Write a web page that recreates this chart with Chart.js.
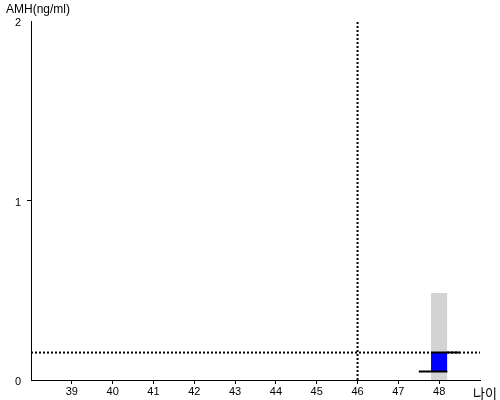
<!DOCTYPE html>
<html>
<head>
<meta charset="utf-8">
<script src="https://cdn.jsdelivr.net/npm/chart.js@4/dist/chart.umd.min.js"></script>
<style>
  html, body { margin: 0; padding: 0; background: #fff; }
  #wrap { width: 500px; height: 400px; position: relative; }
</style>
</head>
<body>
<div id="wrap"><canvas id="c"></canvas></div>
<script>
// ---- data ----
const yTitle = 'AMH(ng/ml)';
const xTitle = '나이';
const ageRange = [38, 49];
const amhRange = [0, 2];
const xTickLabels = [39, 40, 41, 42, 43, 44, 45, 46, 47, 48];
const yTickLabels = [0, 1, 2];
const refAge = 46;            // vertical dotted line
const refAmh = 0.153;         // horizontal dotted line
const boxAges = [47.8, 48.2]; // gray / blue box span
const grayTop = 0.485;
const blueRange = [0.047, 0.153];
const topLineAges = [47.8, 48.5];
const bottomLineAges = [47.5, 48.2];

const cornerText = {
  id: 'cornerText',
  afterDraw(chart) {
    const ctx = chart.ctx, a = chart.chartArea;
    ctx.save();
    ctx.fillStyle = '#000';
    ctx.font = '13px "Noto Sans CJK KR", sans-serif';
    ctx.textAlign = 'left';
    ctx.textBaseline = 'middle';
    ctx.fillText(xTitle, a.right - 7, a.bottom + 13);
    ctx.restore();
  }
};

new Chart(document.getElementById('c'), {
  type: 'scatter',
  data: {
    datasets: [
      { // vertical dotted
        data: [{x: refAge, y: amhRange[0]}, {x: refAge, y: amhRange[1]}],
        showLine: true, borderColor: '#000', borderWidth: 2, borderDash: [2, 2],
        pointRadius: 0, fill: false, order: 0
      },
      { // top black line
        data: topLineAges.map(x => ({x, y: blueRange[1]})),
        showLine: true, borderColor: '#000', borderWidth: 2,
        pointRadius: 0, fill: false, order: 1
      },
      { // bottom black line
        data: bottomLineAges.map(x => ({x, y: blueRange[0]})),
        showLine: true, borderColor: '#000', borderWidth: 2,
        pointRadius: 0, fill: false, order: 2
      },
      { // blue box
        data: boxAges.map(x => ({x, y: blueRange[1]})),
        showLine: true, borderWidth: 0, borderColor: 'rgba(0,0,0,0)',
        backgroundColor: '#0000ff', fill: {value: blueRange[0]},
        pointRadius: 0, order: 3
      },
      { // gray box
        data: boxAges.map(x => ({x, y: grayTop})),
        showLine: true, borderWidth: 0, borderColor: 'rgba(0,0,0,0)',
        backgroundColor: '#d3d3d3', fill: 'origin',
        pointRadius: 0, order: 4
      },
      { // horizontal dotted
        data: ageRange.map(x => ({x, y: refAmh})),
        showLine: true, borderColor: '#000', borderWidth: 2, borderDash: [2, 2],
        pointRadius: 0, fill: false, order: 5
      }
    ]
  },
  options: {
    responsive: true,
    maintainAspectRatio: false,
    animation: false,
    layout: { padding: { left: 6, right: 20, top: 0, bottom: 0 } },
    plugins: {
      legend: { display: false },
      tooltip: { enabled: false },
      title: {
        display: true, text: yTitle, align: 'start', position: 'top',
        color: '#000', font: { family: '"Liberation Sans", Arial, sans-serif', size: 12, weight: 'normal' },
        padding: { top: 2, bottom: 5 }
      }
    },
    scales: {
      x: {
        type: 'linear', min: ageRange[0], max: ageRange[1],
        afterBuildTicks: s => { s.ticks = [ageRange[0], ...xTickLabels, ageRange[1]].map(v => ({value: v})); },
        ticks: {
          autoSkip: false, maxRotation: 0, padding: 1, color: '#000',
          font: { family: '"Liberation Sans", Arial, sans-serif', size: 11 },
          callback: v => xTickLabels.includes(v) ? String(v) : ''
        },
        grid: {
          drawOnChartArea: false, drawTicks: true, tickLength: 4, lineWidth: 1,
          color: c => (c.tick && xTickLabels.includes(c.tick.value)) ? '#000' : 'rgba(0,0,0,0)'
        },
        border: { display: true, color: '#000', width: 1 },
        afterFit: s => { s.height = 20; }
      },
      y: {
        type: 'linear', min: amhRange[0], max: amhRange[1],
        afterBuildTicks: s => { s.ticks = yTickLabels.map(v => ({value: v})); },
        ticks: {
          padding: 6, color: '#000', labelOffset: 2,
          font: { family: '"Liberation Sans", Arial, sans-serif', size: 11 },
          callback: v => String(v)
        },
        grid: {
          drawOnChartArea: false, drawTicks: true, tickLength: 4, lineWidth: 1,
          color: c => (c.tick && c.tick.value === 1) ? '#000' : 'rgba(0,0,0,0)'
        },
        border: { display: true, color: '#000', width: 1 },
        afterFit: s => { s.width = 25; }
      }
    }
  },
  plugins: [cornerText]
});
</script>
</body>
</html>
